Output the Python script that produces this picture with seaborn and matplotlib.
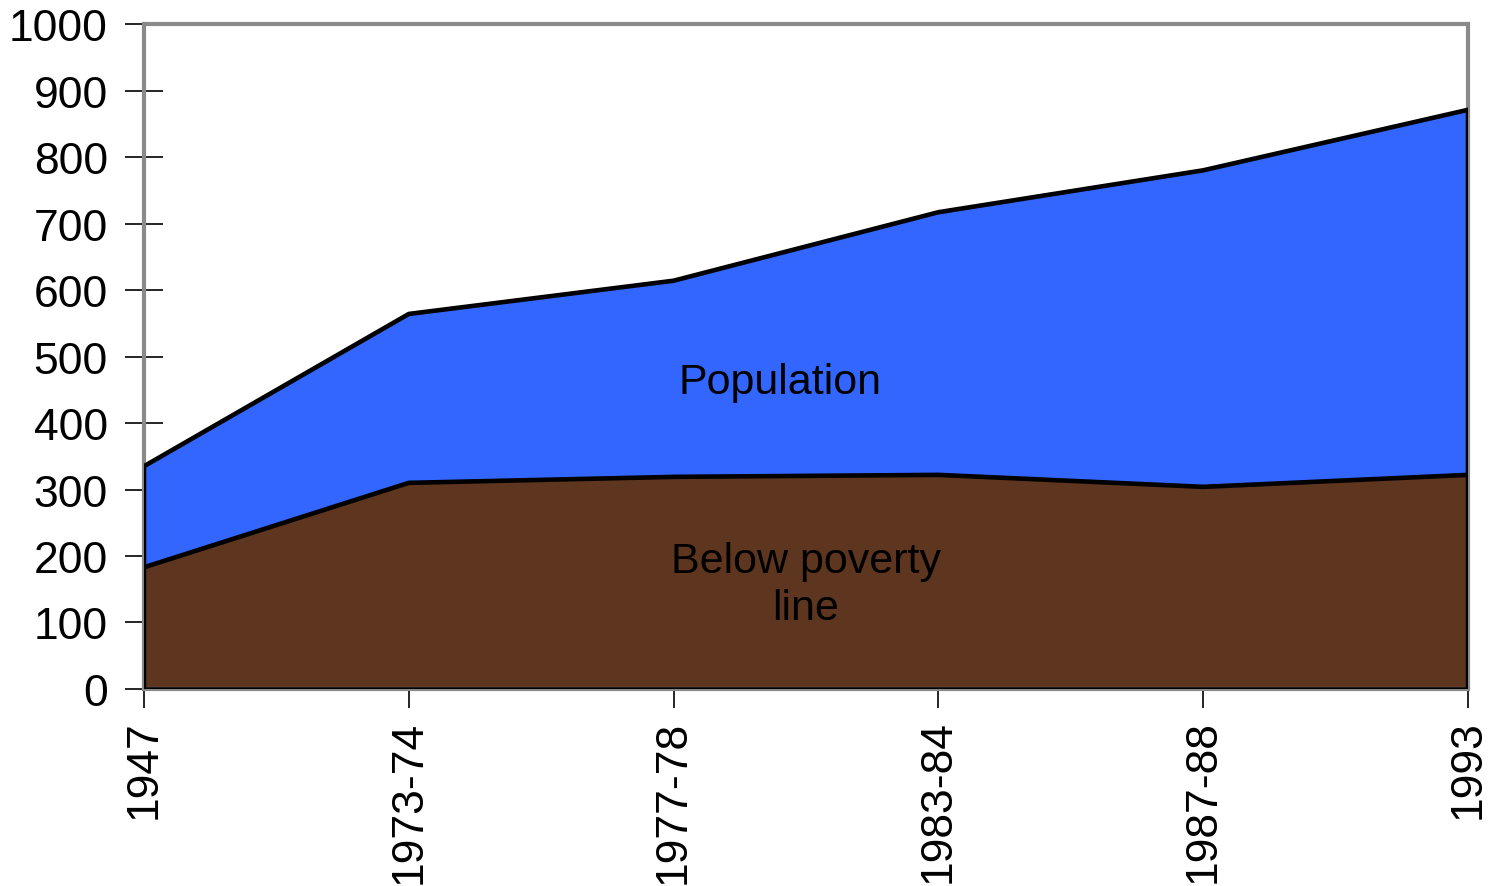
import matplotlib
matplotlib.use("Agg")
import matplotlib.pyplot as plt
import seaborn as sns
import pandas as pd

periods = ["1947", "1973-74", "1977-78", "1983-84", "1987-88", "1993"]
population = [335, 564, 614, 717, 780, 871]
below_poverty = [183, 310, 319, 322, 304, 322]
y_ticks = [0, 100, 200, 300, 400, 500, 600, 700, 800, 900, 1000]

sns.set_theme(style="white")
plt.rcParams["font.family"] = ["Liberation Sans", "DejaVu Sans"]

df = pd.DataFrame({"x": range(len(periods)), "population": population,
                   "poverty": below_poverty})

fig = plt.figure(figsize=(14.89, 8.87), dpi=100)
ax = fig.add_axes([0.0967, 0.2221, 0.8892, 0.7497])

blue = "#3366FF"
brown = "#5E351E"

ax.fill_between(df["x"], 0, df["population"], color=blue, zorder=1, linewidth=0)
ax.fill_between(df["x"], 0, df["poverty"], color=brown, zorder=2, linewidth=0)

# outlines of the two areas
edge = pd.DataFrame({
    "x": [0] + list(df["x"]) + [len(periods) - 1],
    "y": [0] + population + [0],
})
sns.lineplot(data=edge, x="x", y="y", ax=ax, color="black", lw=3.3, sort=False,
             zorder=3, estimator=None)
sns.lineplot(data=df, x="x", y="poverty", ax=ax, color="black", lw=3.3,
             zorder=3, estimator=None)
ax.plot([0, len(periods) - 1], [0, 0], color="black", lw=3.3, zorder=3,
        solid_capstyle="butt")

ax.set_xlim(0, len(periods) - 1)
ax.set_ylim(0, 1000)
ax.set_xticks(range(len(periods)))
ax.set_xticklabels(periods, rotation=90, va="top", ha="center")
ax.set_yticks(y_ticks)
ax.set_yticklabels([str(v) for v in y_ticks])
ax.set_xlabel("")
ax.set_ylabel("")

ax.tick_params(axis="both", direction="inout", length=28, width=1.2,
               color="black", labelsize=32, labelcolor="black")
ax.tick_params(axis="x", bottom=True, pad=8)
ax.tick_params(axis="y", left=True, pad=12)

for s in ["top", "right", "left", "bottom"]:
    ax.spines[s].set_color("#8A8A8A")
    ax.spines[s].set_linewidth(3)
    ax.spines[s].set_visible(True)

ax.text(2.40, 461, "Population", fontsize=31, ha="center", va="center",
        color="black", zorder=4)
ax.text(2.50, 157, "Below poverty\nline", fontsize=31, ha="center",
        va="center", color="black", zorder=4, linespacing=1.25)

fig.savefig("out.png", dpi=100)
